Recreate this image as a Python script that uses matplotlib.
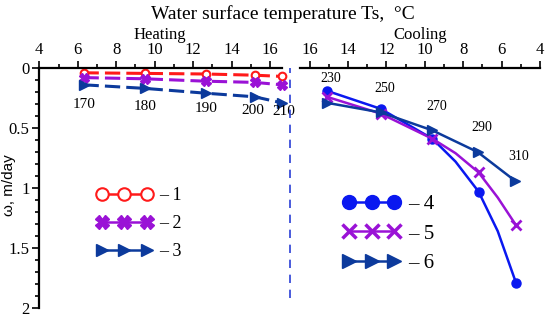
import matplotlib
matplotlib.use('Agg')
import matplotlib.pyplot as plt
from matplotlib.lines import Line2D
from matplotlib.ticker import MultipleLocator

plt.rcParams['font.family'] = 'Liberation Serif'

# heating branch (left panel)
heat_t = [6.3, 9.5, 12.65, 15.2, 16.6]
heat_w1 = [0.04, 0.045, 0.05, 0.06, 0.07]
heat_w2 = [0.08, 0.09, 0.11, 0.12, 0.14]
heat_w3 = [0.14, 0.17, 0.21, 0.24, 0.29]
heat_days = ['170', '180', '190', '200', '210']

# cooling branch (right panel); curves 4 and 5 have extra bends between markers
cool_t = [15.1, 12.3, 9.6, 8.4, 7.2, 6.2, 5.25]
cool_w4 = [0.19, 0.34, 0.59, 0.78, 1.03, 1.36, 1.79]
cool_w5 = [0.24, 0.38, 0.59, 0.71, 0.87, 1.08, 1.31]
cool_mark = [0, 1, 2, 4, 6]
cool_t6 = [15.1, 12.3, 9.6, 7.25, 5.3]
cool_w6 = [0.29, 0.37, 0.52, 0.70, 0.94]
cool_days = ['230', '250', '270', '290', '310']

red = '#ff1a1a'
purple = '#9a12d6'
navy = '#0c3a9c'
blue = '#0a18f0'

W, H = 550, 318
fig = plt.figure(figsize=(5.5, 3.18), dpi=100)

def px_axes(x0, x1, y0, y1):
    return fig.add_axes([x0 / W, 1 - y1 / H, (x1 - x0) / W, (y1 - y0) / H])

ax1 = px_axes(39.3, 281.7, 68, 308)
ax2 = px_axes(300, 540, 68, 308)

dash = (0, (5, 2))
ax1.plot(heat_t, heat_w1, color=red, lw=2.2, ls=dash, marker='o', ms=5.5,
         mfc='white', mec=red, mew=1.5, clip_on=False)
ax1.plot(heat_t, heat_w2, color=purple, lw=2.2, ls=dash, marker='X', ms=7,
         mec=purple, mfc=purple, clip_on=False)
ax1.plot(heat_t, heat_w3, color=navy, lw=2.2, ls=dash, marker='>', ms=6.5,
         mec=navy, mfc=navy, clip_on=False)

heat_off = [(1, -20), (0, -18), (0, -15), (-2, -14), (2, -9)]
for t, w, d, off in zip(heat_t, heat_w3, heat_days, heat_off):
    ax1.annotate(d, (t, w), xytext=off, textcoords='offset pixels',
                 ha='center', va='center', fontsize=11)

ax2.plot(cool_t, cool_w4, color=blue, lw=1.8, marker='o', ms=6.5,
         markevery=cool_mark, clip_on=False)
ax2.plot(cool_t, cool_w5, color=purple, lw=1.8, marker='x', ms=7, mew=2,
         markevery=cool_mark, clip_on=False)
ax2.plot(cool_t6, cool_w6, color=navy, lw=1.8, marker='>', ms=7, clip_on=False)

for t, w, d in zip(cool_t6, cool_w6, cool_days):
    ax2.annotate(d, (t, w), xytext=(4, 24), textcoords='offset pixels',
                 ha='center', va='center', fontsize=10)

ax2.axvline(17.0, ymin=0.04, ymax=1, color='#2a3fd6', lw=1.2,
            ls=(0, (5, 4)), clip_on=False)

for ax, lim in ((ax1, (4, 16.6)), (ax2, (16.5, 4))):
    ax.set_xlim(*lim)
    ax.set_ylim(2, 0)
    ax.xaxis.tick_top()
    ax.xaxis.set_major_locator(MultipleLocator(2))
    ax.xaxis.set_minor_locator(MultipleLocator(1))
    ax.tick_params(axis='x', which='both', direction='out', width=1.2, pad=2,
                   labelsize=12, top=True, bottom=False)
    ax.tick_params(axis='x', which='major', length=5)
    ax.tick_params(axis='x', which='minor', length=3)
    ax.spines['bottom'].set_visible(False)
    ax.spines['right'].set_visible(False)
    ax.spines['top'].set_linewidth(1.6)
    ax.patch.set_alpha(0)

ax1.yaxis.set_major_locator(MultipleLocator(0.5))
ax1.yaxis.set_minor_locator(MultipleLocator(0.1))
ax1.yaxis.set_major_formatter(lambda v, p: '%g' % v)
ax1.tick_params(axis='y', which='both', direction='out', width=1.2, pad=2, labelsize=12)
ax1.tick_params(axis='y', which='major', length=5)
ax1.tick_params(axis='y', which='minor', length=3)
ax1.spines['left'].set_linewidth(1.6)
ax1.set_ylabel('ω, m/day', fontfamily='Liberation Sans', fontsize=11)
ax1.yaxis.set_label_coords(-0.095, 0.51)

ax2.spines['left'].set_visible(False)
ax2.set_yticks([])

h_left = [
    Line2D([], [], color=red, lw=1.8, marker='o', ms=9, mfc='white', mec=red, mew=1.5),
    Line2D([], [], color=purple, lw=1.8, marker='X', ms=10, mfc=purple, mec=purple),
    Line2D([], [], color=navy, lw=1.8, marker='>', ms=9, mfc=navy, mec=navy),
]
ax1.legend(h_left, ['– 1', '– 2', '– 3'], loc='upper left',
           bbox_to_anchor=(96.3 / W, 1 - 187 / H), bbox_transform=fig.transFigure,
           frameon=False, numpoints=3, handlelength=3.09, handletextpad=0.4,
           labelspacing=0.62, borderpad=0, borderaxespad=0, fontsize=13)

h_right = [
    Line2D([], [], color=blue, lw=1.8, marker='o', ms=10),
    Line2D([], [], color=purple, lw=1.8, marker='x', ms=10, mew=2.5),
    Line2D([], [], color=navy, lw=1.8, marker='>', ms=10),
]
ax2.legend(h_right, ['– 4', '– 5', '– 6'], loc='upper left',
           bbox_to_anchor=(342.8 / W, 1 - 194.5 / H), bbox_transform=fig.transFigure,
           frameon=False, numpoints=3, handlelength=2.76, handletextpad=0.39,
           labelspacing=0.48, borderpad=0, borderaxespad=0, fontsize=15)

fig.text(283 / W, 1 - 14 / H, 'Water surface temperature Ts,  °C', fontsize=14,
         ha='center', va='center')
fig.text(159.5 / W, 1 - 35 / H, 'Heating', fontsize=12, ha='center', va='center')
fig.text(420.5 / W, 1 - 35 / H, 'Cooling', fontsize=12, ha='center', va='center')

fig.savefig('out.png', dpi=100)
